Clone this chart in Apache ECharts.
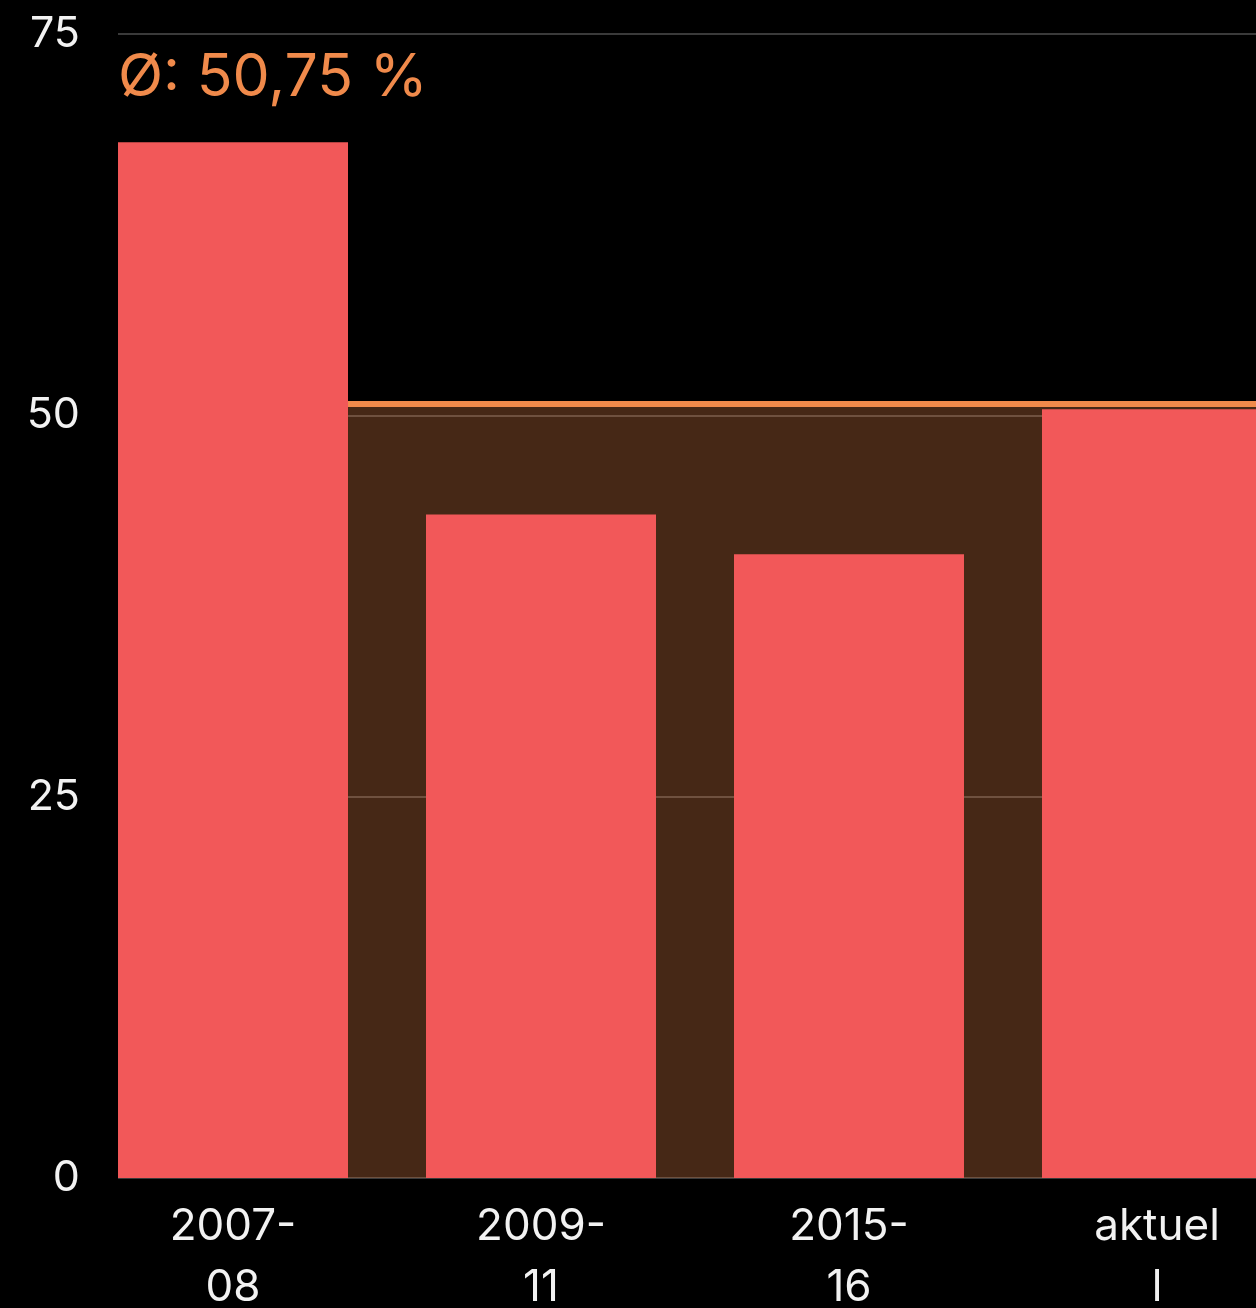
<!DOCTYPE html>
<html>
<head>
<meta charset="utf-8">
<style>
html,body{margin:0;padding:0;background:#000;}
#chart{width:1256px;height:1308px;}
</style>
<script src="https://cdn.jsdelivr.net/npm/echarts@6/dist/echarts.min.js"></script>
</head>
<body>
<div id="chart"></div>
<script>
const categories = ['2007-08', '2009-11', '2015-16', 'aktuell'];
const tickLabels = ['2007-\n08', '2009-\n11', '2015-\n16', 'aktuel\nl'];
const values = [67.9, 43.5, 40.9, 50.4];
const average = 50.75;
const averageLabel = 'Ø: 50,75 %';
const yTicks = [0, 25, 50, 75];

const FONT = 'Inter, "DejaVu Sans", sans-serif';
const halfBar = 0.3734;

const chart = echarts.init(document.getElementById('chart'), null, {renderer: 'canvas'});
chart.setOption({
  backgroundColor: '#000',
  animation: false,
  title: {
    text: averageLabel,
    left: 113, top: 44,
    textStyle: {color: '#f08a4b', fontSize: 59, fontWeight: 'normal', fontFamily: FONT}
  },
  grid: {left: 118, top: 34, width: 1154, height: 1144, outerBoundsMode: 'none', containLabel: false},
  xAxis: {
    type: 'value',
    min: -halfBar,
    max: categories.length - 1 + halfBar,
    axisLine: {show: false},
    axisTick: {show: false},
    splitLine: {show: false},
    axisLabel: {
      customValues: categories.map((c, i) => i),
      formatter: v => tickLabels[Math.round(v)],
      color: '#f2f2f2',
      fontSize: 44,
      lineHeight: 61,
      margin: 18,
      fontFamily: FONT
    }
  },
  yAxis: {
    type: 'value',
    min: 0, max: 75, interval: 25,
    axisLine: {show: false},
    axisTick: {show: false},
    axisLabel: {color: '#f2f2f2', fontSize: 43, margin: 38, fontFamily: FONT},
    splitLine: {lineStyle: {color: '#3a3a3a', width: 2}}
  },
  series: [{
    type: 'line',
    name: 'area',
    data: [],
    z: 1,
    silent: true,
    markArea: {
      silent: true,
      z: 1,
      itemStyle: {color: 'rgba(240,138,75,0.29)'},
      data: [[{xAxis: 0, yAxis: 0}, {xAxis: categories.length, yAxis: average}]]
    }
  }, {
    type: 'line',
    name: 'average',
    data: [],
    z: 3,
    silent: true,
    markLine: {
      silent: true,
      z: 3,
      symbol: 'none',
      label: {show: false},
      lineStyle: {color: '#f08a4b', width: 6, type: 'solid', opacity: 1},
      data: [{yAxis: average}]
    }
  }, {
    type: 'bar',
    barWidth: 230,
    z: 5,
    data: categories.map((c, i) => [i, values[i]]),
    itemStyle: {color: '#f25859'}
  }]
});
</script>
</body>
</html>
